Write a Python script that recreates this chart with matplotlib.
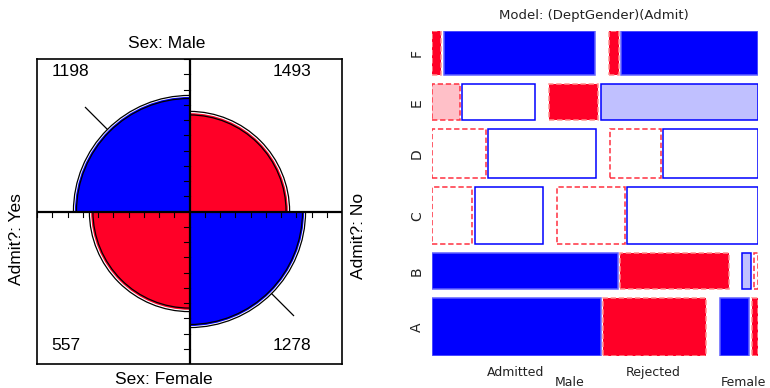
import numpy as np
import matplotlib.pyplot as plt
from matplotlib.patches import Rectangle, Wedge, Arc

plt.rcParams['font.family'] = ['Liberation Sans', 'DejaVu Sans']

# UC Berkeley admissions, by department
depts = ['A', 'B', 'C', 'D', 'E', 'F']
male_admitted = [512, 353, 120, 138, 53, 22]
male_rejected = [313, 207, 205, 279, 138, 351]
female_admitted = [89, 17, 202, 131, 94, 24]
female_rejected = [19, 8, 391, 244, 299, 317]
admit_labels = ['Admitted', 'Rejected']
sex_labels = ['Male', 'Female']

BLUE = '#0000FF'
RED = '#FF0027'
LIGHT_BLUE = '#C0C0FF'
LIGHT_RED = '#FFC0C8'

fig = plt.figure(figsize=(7.7, 3.88), dpi=100)

# ---------------- fourfold display ----------------
tab = np.array([[sum(male_admitted), sum(male_rejected)],
                [sum(female_admitted), sum(female_rejected)]], dtype=float)

ax = fig.add_axes([37 / 770, 24 / 388, 305 / 770, 305 / 388])
ax.set_xlim(-1, 1)
ax.set_ylim(-1, 1)
ax.set_xticks([])
ax.set_yticks([])
for s in ax.spines.values():
    s.set_linewidth(1.2)


def std_u(orv):
    s = np.sqrt(orv)
    return s / (1 + s)


odds = tab[0, 0] * tab[1, 1] / (tab[0, 1] * tab[1, 0])
se = np.sqrt((1 / tab).sum())
u = std_u(odds)
u_lo = std_u(np.exp(np.log(odds) - 1.96 * se))
u_hi = std_u(np.exp(np.log(odds) + 1.96 * se))

k = 0.99
# (row, col) -> angle range, diagonal?
quads = {(0, 0): (90, 180, True), (0, 1): (0, 90, False),
         (1, 0): (180, 270, False), (1, 1): (270, 360, True)}
for (i, j), (t1, t2, diag) in quads.items():
    if diag:
        fit, lo, hi = u, u_lo, u_hi
        col = BLUE
    else:
        fit, lo, hi = 1 - u, 1 - u_hi, 1 - u_lo
        col = RED
    r0 = k * np.sqrt(fit)
    ax.add_patch(Wedge((0, 0), r0, t1, t2, facecolor=col, edgecolor='none', zorder=2))
    for rr in (k * np.sqrt(lo), k * np.sqrt(hi)):
        ax.add_patch(Arc((0, 0), 2 * rr, 2 * rr, theta1=t1, theta2=t2,
                         color='black', lw=0.9, zorder=3))
    if diag:
        a = np.deg2rad((t1 + t2) / 2)
        rr = k * np.sqrt(hi)
        ax.plot([rr * np.cos(a), 0.965 * np.cos(a)], [rr * np.sin(a), 0.965 * np.sin(a)],
                color='black', lw=0.9, zorder=3)

ax.axhline(0, color='black', lw=1.6, zorder=4)
ax.axvline(0, color='black', lw=1.6, zorder=4)
tl = 0.035
for t in np.arange(1, 11) / 10:
    ax.plot([-tl, 0], [t, t], color='black', lw=0.8, zorder=4)
    ax.plot([-tl, 0], [-t, -t], color='black', lw=0.8, zorder=4)
    ax.plot([-t, -t], [0, -tl], color='black', lw=0.8, zorder=4)
    ax.plot([t, t], [0, -tl], color='black', lw=0.8, zorder=4)

fs = 12.5
ax.text(-0.905, 0.918, f'{int(tab[0, 0])}', ha='left', va='center', fontsize=fs)
ax.text(0.797, 0.918, f'{int(tab[0, 1])}', ha='right', va='center', fontsize=fs)
ax.text(-0.905, -0.879, f'{int(tab[1, 0])}', ha='left', va='center', fontsize=fs)
ax.text(0.797, -0.879, f'{int(tab[1, 1])}', ha='right', va='center', fontsize=fs)
ax.text(-0.15, 1.10, 'Sex: Male', ha='center', va='center', fontsize=fs)
ax.text(-0.17, -1.10, 'Sex: Female', ha='center', va='center', fontsize=fs)
ax.text(-1.134, -0.184, 'Admit?: Yes', ha='center', va='center', rotation=90, fontsize=fs)
ax.text(1.108, -0.157, 'Admit?: No', ha='center', va='center', rotation=90, fontsize=fs)

# ---------------- mosaic display ----------------
ax2 = fig.add_axes([432 / 770, 32 / 388, 326 / 770, 325 / 388])
ax2.set_xlim(0, 1)
ax2.set_ylim(0, 1)
ax2.axis('off')

counts = np.array([male_admitted, male_rejected, female_admitted, female_rejected], dtype=float).T
N = counts.sum()
p_adm = (counts[:, 0].sum() + counts[:, 2].sum()) / N
sex_tot = np.stack([counts[:, 0] + counts[:, 1], counts[:, 2] + counts[:, 3]], axis=1)
expected = np.stack([sex_tot[:, 0] * p_adm, sex_tot[:, 0] * (1 - p_adm),
                     sex_tot[:, 1] * p_adm, sex_tot[:, 1] * (1 - p_adm)], axis=1)
resid = (counts - expected) / np.sqrt(expected)
row_tot = counts.sum(axis=1)

ROW_GAP = 0.0277
SEX_GAP = 0.0414
ADM_GAP = 0.0077

y = 0.0
for i in range(len(depts)):
    h = (1 - (len(depts) - 1) * ROW_GAP) * row_tot[i] / N
    avail = 1 - SEX_GAP - 2 * ADM_GAP
    x = 0.0
    for j in range(4):
        w = avail * counts[i, j] / row_tot[i]
        r = resid[i, j]
        if r >= 0:
            fc = BLUE if r > 4 else (LIGHT_BLUE if r > 2 else 'white')
            ec = '#6060FF' if r > 4 else BLUE
            ls = '-'
        else:
            fc = RED if r < -4 else (LIGHT_RED if r < -2 else 'white')
            ec = '#FF9090' if r < -4 else '#FF3040'
            ls = (0, (3.5, 1.8))
        ax2.add_patch(Rectangle((x, y), w, h, facecolor=fc, edgecolor=ec,
                                lw=1.1, linestyle=ls))
        x += w + (SEX_GAP if j == 1 else ADM_GAP)
    ax2.text(-0.046, y + h / 2, depts[i], rotation=90, ha='center', va='center',
             fontsize=10, family='DejaVu Sans', color='#222222')
    y += h + ROW_GAP

mfs = 9
ax2.text(0.497, 1.048, 'Model: (DeptGender)(Admit)', ha='center', va='center',
         fontsize=9.5, family='DejaVu Sans', color='#222222')
ax2.text(0.255, -0.052, admit_labels[0], ha='center', va='center', fontsize=mfs,
         family='DejaVu Sans', color='#222222')
ax2.text(0.678, -0.052, admit_labels[1], ha='center', va='center', fontsize=mfs,
         family='DejaVu Sans', color='#222222')
ax2.text(0.423, -0.083, sex_labels[0], ha='center', va='center', fontsize=mfs,
         family='DejaVu Sans', color='#222222')
ax2.text(0.954, -0.083, sex_labels[1], ha='center', va='center', fontsize=mfs,
         family='DejaVu Sans', color='#222222')

fig.savefig('out.png', dpi=100)
